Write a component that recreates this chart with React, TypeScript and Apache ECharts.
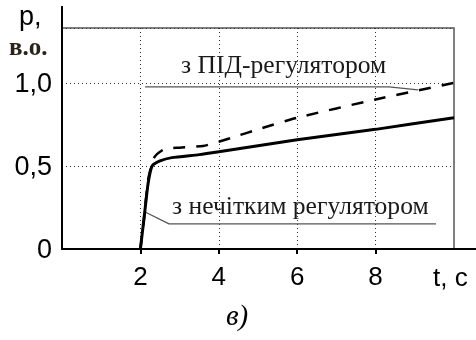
import React, { useEffect, useRef } from "react";
import * as echarts from "echarts";

// Time axis (s) and response values (p.u.)
const fuzzyT = [2.0, 2.1, 2.2, 2.3, 2.5, 2.8, 3.5, 4.0, 6.0, 8.0, 10.0];
const fuzzyP = [0.0, 0.2, 0.4, 0.5, 0.53, 0.55, 0.568, 0.585, 0.657, 0.72, 0.79];

const pidT = [2.0, 2.1, 2.2, 2.35, 2.6, 3.0, 3.6, 4.0, 4.4, 5.0, 6.0, 8.0, 10.0];
const pidP = [0.0, 0.2, 0.42, 0.55, 0.6, 0.61, 0.62, 0.645, 0.675, 0.72, 0.79, 0.9, 1.0];

// annotation leader lines (data coords)
const pidLeaderT = [2.12, 8.34, 9.08];
const pidLeaderP = [0.976, 0.976, 0.958];
const fuzzyLeaderT = [2.12, 2.73, 9.54];
const fuzzyLeaderP = [0.223, 0.151, 0.151];

const xTickLabels = ["2", "4", "6", "8"];
const yTickValues = [0, 0.5, 1.0];
const yTickLabels = ["0", "0,5", "1,0"];

const zip = (a: number[], b: number[]) => a.map((v, i) => [v, b[i]]);

export default function App() {
  const ref = useRef<HTMLDivElement>(null);
  useEffect(() => {
    const chart = echarts.init(ref.current!, null, { renderer: "svg" });
    const dotted = { type: [1, 3] as any, color: "#333", width: 1 };
    chart.setOption({
      animation: false,
      grid: {
        left: 62,
        right: 22,
        top: 28,
        bottom: 91,
        show: true,
        borderColor: "#555",
        borderWidth: 1.5,
      },
      xAxis: {
        type: "value",
        min: 0,
        max: 10,
        interval: 2,
        axisLine: { lineStyle: { color: "#000", width: 2 } },
        axisTick: { show: true, length: 5, lineStyle: { color: "#000", width: 2 }, customValues: [2, 4, 6, 8] },
        axisLabel: {
          fontSize: 26,
          fontFamily: "Liberation Sans",
          color: "#000",
          margin: 14,
          formatter: (v: number) => {
            const i = [2, 4, 6, 8].indexOf(v);
            return i >= 0 ? xTickLabels[i] : "";
          },
        },
        splitLine: { show: true, lineStyle: dotted },
      },
      yAxis: {
        type: "value",
        min: 0,
        max: 1.33,
        interval: 0.5,
        axisLine: { show: true, lineStyle: { color: "#000", width: 2 } },
        axisTick: { show: false },
        axisLabel: {
          fontSize: 27,
          fontFamily: "Liberation Sans",
          color: "#000",
          margin: 10,
          formatter: (v: number) => {
            const i = yTickValues.findIndex((t) => Math.abs(t - v) < 1e-6);
            return i >= 0 ? yTickLabels[i] : "";
          },
        },
        splitLine: { show: true, lineStyle: dotted },
      },
      series: [
        {
          type: "line",
          data: zip(fuzzyT, fuzzyP),
          showSymbol: false,
          smooth: 0.2,
          lineStyle: { color: "#000", width: 3 },
          z: 5,
        },
        {
          type: "line",
          data: zip(pidT, pidP),
          showSymbol: false,
          smooth: 0.2,
          lineStyle: { color: "#000", width: 2.5, type: [12, 11] },
          z: 5,
        },
        {
          type: "line",
          data: zip(pidLeaderT, pidLeaderP),
          showSymbol: false,
          silent: true,
          lineStyle: { color: "#555", width: 1.2 },
          z: 4,
        },
        {
          type: "line",
          data: zip(fuzzyLeaderT, fuzzyLeaderP),
          showSymbol: false,
          silent: true,
          lineStyle: { color: "#555", width: 1.2 },
          z: 4,
        },
      ],
      graphic: [
        { type: "line", shape: { x1: 62, y1: 6, x2: 62, y2: 28 }, style: { stroke: "#000", lineWidth: 2 } },
        { type: "line", shape: { x1: 454, y1: 249, x2: 476, y2: 249 }, style: { stroke: "#000", lineWidth: 2 } },
        {
          type: "text",
          left: 19,
          top: 2,
          style: { text: "p,", font: "27px 'Liberation Sans'", fill: "#000" },
        },
        {
          type: "text",
          left: 9,
          top: 34,
          style: { text: "в.о.", font: "bold 25px 'Liberation Serif'", fill: "#2a2418" },
        },
        {
          type: "text",
          left: 181,
          top: 51,
          style: { text: "з ПІД-регулятором", font: "25.6px 'Liberation Serif'", fill: "#1a1a1a" },
        },
        {
          type: "text",
          left: 172,
          top: 192,
          style: { text: "з нечітким регулятором", font: "25.6px 'Liberation Serif'", fill: "#1a1a1a" },
        },
        {
          type: "text",
          left: 433,
          top: 264,
          style: { text: "t, c", font: "26px 'Liberation Sans'", fill: "#000" },
        },
        {
          type: "text",
          left: 226,
          top: 300,
          style: { text: "в)", font: "italic 29px 'Liberation Serif'", fill: "#000" },
        },
      ],
    });
    return () => chart.dispose();
  }, []);
  return <div ref={ref} style={{ position: "fixed", left: 0, top: 0, width: 476, height: 340 }} />;
}
